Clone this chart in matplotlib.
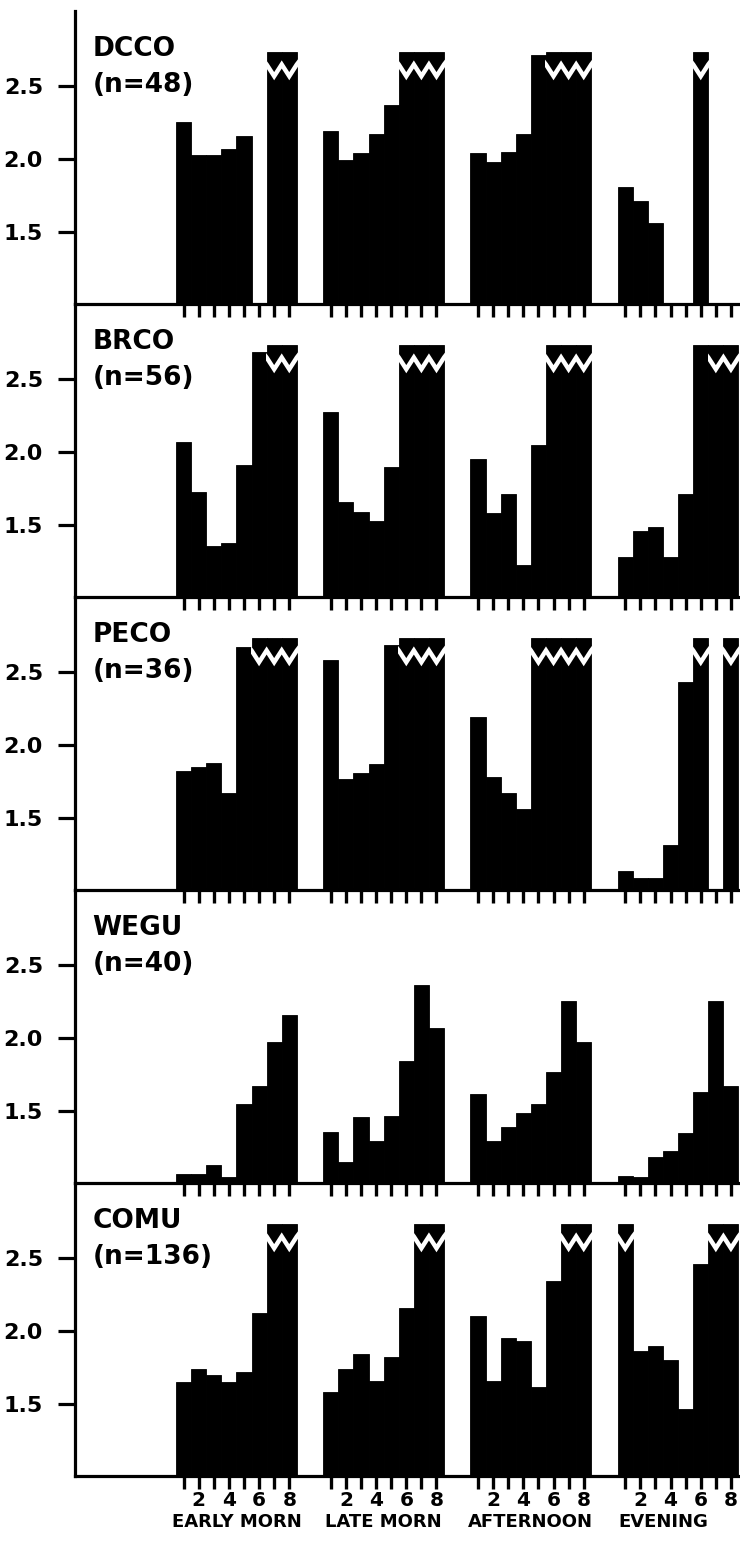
import numpy as np
import matplotlib
matplotlib.use('Agg')
import matplotlib.pyplot as plt
from matplotlib.patches import Rectangle
from matplotlib.transforms import blended_transform_factory

plt.rcParams['font.family'] = ['DejaVu Sans']
plt.rcParams['font.weight'] = 'bold'

nan = np.nan
OFF = np.inf   # bar runs off the top of the scale (drawn broken)

periods = ['EARLY MORN', 'LATE MORN', 'AFTERNOON', 'EVENING']
species = ['DCCO', 'BRCO', 'PECO', 'WEGU', 'COMU']
n_obs = [48, 56, 36, 40, 136]

dcco = [[2.25, 2.03, 2.03, 2.07, 2.16, nan, OFF, OFF],
        [2.19, 1.99, 2.04, 2.17, 2.37, OFF, OFF, OFF],
        [2.04, 1.98, 2.05, 2.17, 2.71, OFF, OFF, OFF],
        [1.81, 1.71, 1.56, nan, nan, OFF, nan, nan]]
brco = [[2.07, 1.73, 1.36, 1.38, 1.91, 2.68, OFF, OFF],
        [2.27, 1.66, 1.59, 1.53, 1.90, OFF, OFF, OFF],
        [1.95, 1.58, 1.71, 1.23, 2.05, OFF, OFF, OFF],
        [1.28, 1.46, 1.49, 1.28, 1.71, 2.79, OFF, OFF]]
peco = [[1.82, 1.85, 1.88, 1.67, 2.67, OFF, OFF, OFF],
        [2.58, 1.77, 1.81, 1.87, 2.68, OFF, OFF, OFF],
        [2.19, 1.78, 1.67, 1.56, OFF, OFF, OFF, OFF],
        [1.14, 1.09, 1.09, 1.32, 2.43, OFF, nan, OFF]]
wegu = [[1.07, 1.07, 1.13, 1.05, 1.55, 1.67, 1.97, 2.16],
        [1.36, 1.15, 1.46, 1.30, 1.47, 1.84, 2.36, 2.07],
        [1.62, 1.30, 1.39, 1.49, 1.55, 1.77, 2.25, 1.97],
        [1.06, 1.05, 1.19, 1.23, 1.35, 1.63, 2.25, 1.67]]
comu = [[1.65, 1.74, 1.70, 1.65, 1.72, 2.12, OFF, OFF],
        [1.58, 1.74, 1.84, 1.66, 1.82, 2.16, OFF, OFF],
        [2.10, 1.66, 1.95, 1.93, 1.62, 2.34, OFF, OFF],
        [OFF, 1.86, 1.90, 1.80, 1.47, 2.46, OFF, OFF]]
all_data = [dcco, brco, peco, wegu, comu]

yticks = [1.5, 2.0, 2.5]
ytick_labels = ['1.5', '2.0', '2.5']

# layout (pixels of a 740x1541 figure)
W, H = 740, 1541
GROUP_STEP = 9.75
YMIN, YMAX = 1.01, 3.01
CAP = 2.73            # height where broken bars are cut off
ZHI, ZLO = 2.645, 2.565

fig = plt.figure(figsize=(7.4, 15.41), dpi=100)

for k, (name, n, data) in enumerate(zip(species, n_obs, all_data)):
    bot_px = 304 + 293 * k
    ax = fig.add_axes([75 / W, 1 - bot_px / H, 1 - 75 / W, 293 / H])
    ax.patch.set_alpha(0)

    xs_all = []
    for g, vals in enumerate(data):
        vals = np.array(vals, dtype=float)
        xs = g * GROUP_STEP + np.arange(8) + 0.5
        xs_all.extend(xs)
        ok = ~np.isnan(vals)
        h = np.minimum(vals[ok], CAP)
        ax.bar(xs[ok], h, width=1.0, color='black', edgecolor='black',
               linewidth=0.6, zorder=2)
        # zigzag break on off-scale runs
        off = np.isinf(vals)
        i = 0
        while i < 8:
            if off[i]:
                j = i
                while j + 1 < 8 and off[j + 1]:
                    j += 1
                px, py = [], []
                for b in range(i, j + 1):
                    px += [xs[b] - 0.5, xs[b]]
                    py += [ZHI, ZLO]
                px.append(xs[j] + 0.5)
                py.append(ZHI)
                px = [px[0] - 0.3] + px + [px[-1] + 0.3]
                py = [ZHI + 0.04] + py + [ZHI + 0.04]
                ln, = ax.plot(px, py, color='white', lw=3.2, zorder=3,
                              solid_joinstyle='miter', solid_capstyle='butt')
                # keep the cut inside the broken bars only
                clip = Rectangle((xs[i] - 0.55, 0), (j - i) + 1.1, 5,
                                 transform=ax.transData)
                ln.set_clip_path(clip)
                i = j + 1
            else:
                i += 1

    ax.set_xlim(-6.69, 37.35)
    ax.set_ylim(YMIN, YMAX)
    for s in ['top', 'right']:
        ax.spines[s].set_visible(False)
    for s in ['left', 'bottom']:
        ax.spines[s].set_linewidth(2.3)

    ax.set_yticks(yticks)
    ax.set_yticklabels(ytick_labels, fontsize=16, fontweight='bold')
    ax.tick_params(axis='y', direction='out', length=12, width=2.3, pad=11)

    ax.set_xticks(xs_all)
    ax.tick_params(axis='x', direction='out', length=9, width=2.4, pad=2)
    if k == len(species) - 1:
        labs = [str(i + 1) if (i + 1) % 2 == 0 else '' for i in range(8)] * 4
        ax.set_xticklabels(labs, fontsize=14.5, fontweight='bold')
        trans = blended_transform_factory(ax.transData, ax.transAxes)
        for g, p in enumerate(periods):
            cx = g * GROUP_STEP + 4
            if p == 'EVENING':
                cx -= 1
            ax.text(cx, -0.157, p, transform=trans, ha='center', va='center',
                    fontsize=13, fontweight='bold')
    else:
        ax.set_xticklabels([])

    ax.text(0.026, 0.845, name, transform=ax.transAxes, fontsize=19,
            fontweight='bold', va='baseline', ha='left')
    ax.text(0.026, 0.725, '(n=%d)' % n, transform=ax.transAxes, fontsize=19,
            fontweight='bold', va='baseline', ha='left')

fig.savefig('out.png', dpi=100)
